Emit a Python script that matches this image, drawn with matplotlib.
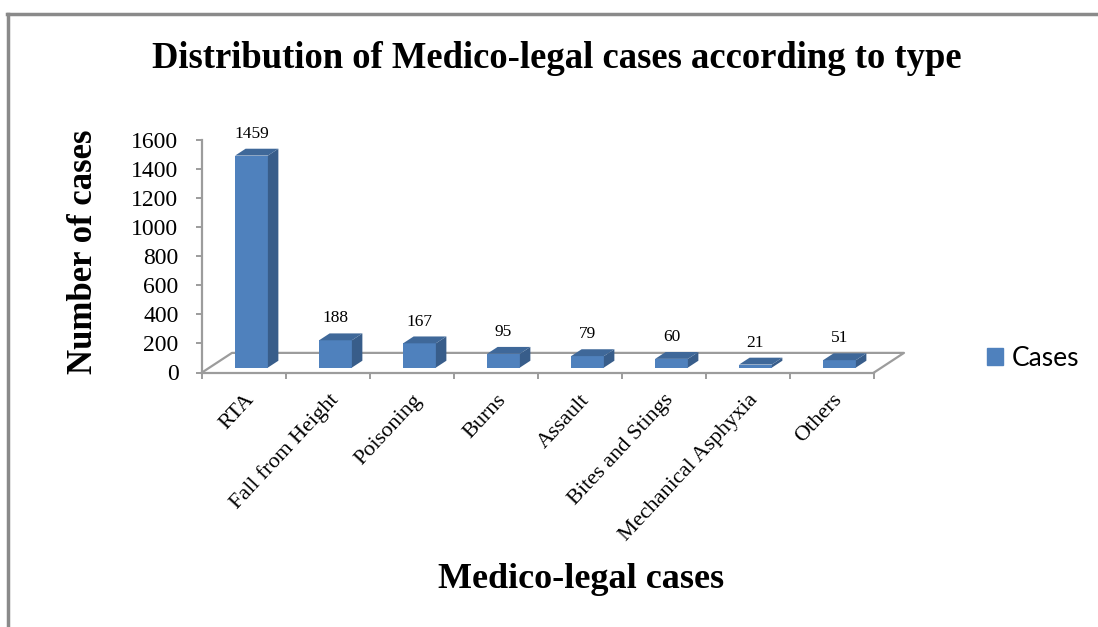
import matplotlib
matplotlib.use("Agg")
import matplotlib.pyplot as plt
from matplotlib.patches import Polygon, Patch
from matplotlib.lines import Line2D

categories = ["RTA", "Fall from Height", "Poisoning", "Burns", "Assault",
              "Bites and Stings", "Mechanical Asphyxia", "Others"]
cases = [1459, 188, 167, 95, 79, 60, 21, 51]
yticks = [0, 200, 400, 600, 800, 1000, 1200, 1400, 1600]

W, H = 1098, 627
fig = plt.figure(figsize=(W / 100, H / 100), dpi=100)
fig.patch.set_facecolor("white")

serif = "Liberation Serif"
grey = "#9C9C9C"
front = "#4F81BD"
side_c = "#385D8A"
top_c = "#3F6899"

# plot area: categories 0..8 and values 0..1600 (front plane of the 3D box)
ax = fig.add_axes([202 / W, (H - 372.5) / H, 672 / W, 232.5 / H])
n = len(categories)
ax.set_xlim(0, n)
ax.set_ylim(0, 1600)
ax.patch.set_visible(False)
for s in ["top", "right"]:
    ax.spines[s].set_visible(False)
for s in ["left", "bottom"]:
    ax.spines[s].set_color(grey)
    ax.spines[s].set_linewidth(1.6)

# floor of the 3D box (depth vector in data units)
dx, dy = 0.357, 135
ax.plot([0, dx, n + dx, n], [0, dy, dy, 0], color=grey, lw=1.6,
        clip_on=False, zorder=1)

# bars: front faces with ax.bar, side/top faces as polygons
f, bw, bd = 0.25, 0.39, 0.35
base = f * dy
x0 = [i + 0.5 - bw / 2 + f * dx for i in range(n)]
ax.bar(x0, cases, width=bw, bottom=base, align="edge", color=front,
       zorder=3, clip_on=False, linewidth=0)
for x, v in zip(x0, cases):
    sx, sy = bd * dx, bd * dy
    ax.add_patch(Polygon([(x + bw, base), (x + bw + sx, base + sy),
                          (x + bw + sx, base + sy + v), (x + bw, base + v)],
                         closed=True, fc=side_c, ec="none", zorder=3,
                         clip_on=False))
    ax.add_patch(Polygon([(x, base + v), (x + bw, base + v),
                          (x + bw + sx, base + v + sy), (x + sx, base + v + sy)],
                         closed=True, fc=top_c, ec="none", zorder=3,
                         clip_on=False))
    ax.annotate(str(v), (x + bw / 2, base + v + sy), xytext=(0, 5),
                textcoords="offset points", ha="center", va="bottom",
                fontsize=12.5, family=serif, zorder=4)

# ticks
ax.set_yticks(yticks)
ax.set_yticklabels([str(t) for t in yticks], family=serif, fontsize=17)
ax.tick_params(axis="y", direction="out", length=4, width=1.4, color=grey,
               pad=13)
ax.set_xticks(range(n + 1))
ax.set_xticklabels([])
ax.tick_params(axis="x", which="major", direction="out", length=4, width=1.4,
               color=grey)
ax.set_xticks([i + 0.5 for i in range(n)], minor=True)
ax.set_xticklabels(categories, minor=True, rotation=47, ha="right",
                   rotation_mode="anchor", family=serif, fontsize=16)
ax.tick_params(axis="x", which="minor", length=0, pad=13)

# titles
fig.text(557 / W, (H - 58) / H, "Distribution of Medico-legal cases according to type",
         ha="center", va="center", fontsize=26.4, fontweight="bold", family=serif)
fig.text(83 / W, (H - 252) / H, "Number of cases", rotation=90,
         ha="center", va="center", fontsize=25, fontweight="bold", family=serif)
fig.text(581 / W, (H - 579) / H, "Medico-legal cases",
         ha="center", va="center", fontsize=26, fontweight="bold", family=serif)

# legend
fig.legend(handles=[Patch(color=front, label="Cases")], loc="center left",
           bbox_to_anchor=(987 / W, (H - 358) / H), frameon=False,
           prop={"family": "Lato", "size": 19}, handlelength=0.6,
           handleheight=0.6, handletextpad=0.35, borderpad=0,
           borderaxespad=0)

# chart border
fig.add_artist(Line2D([7 / W, 1], [(H - 14) / H] * 2, color="#8A8A8A", lw=2.5))
fig.add_artist(Line2D([8 / W] * 2, [0, (H - 14) / H], color="#8A8A8A", lw=2.5))

fig.savefig("out.png", dpi=100)
